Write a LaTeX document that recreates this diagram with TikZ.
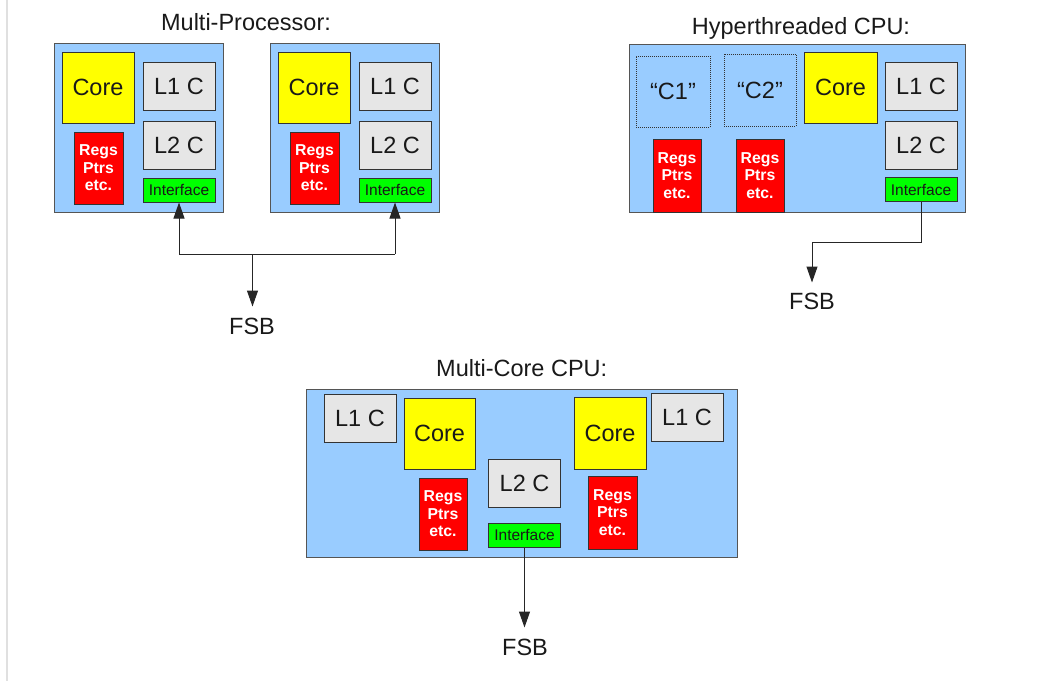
\documentclass[tikz,border=0pt]{standalone}
\usepackage{fontspec}
\setmainfont{Liberation Sans}
\usetikzlibrary{arrows.meta}

\definecolor{chipblue}{HTML}{99CCFF}
\definecolor{coreyellow}{HTML}{FFFF00}
\definecolor{cachegray}{HTML}{E6E6E6}
\definecolor{regred}{HTML}{FF0000}
\definecolor{ifgreen}{HTML}{00FF00}
\definecolor{edge}{HTML}{333333}
\definecolor{chipedge}{HTML}{555555}
\definecolor{rulegray}{HTML}{E0E0E0}

\tikzset{
  big/.style={font=\fontsize{23.5}{28}\selectfont, text=black!90},
  chip/.style={draw=chipedge, fill=chipblue, line width=1pt, inner sep=0pt},
  block/.style={draw=edge, line width=1pt, inner sep=0pt, big},
  corebox/.style={block, fill=coreyellow},
  cachebox/.style={block, fill=cachegray, minimum width=72pt, minimum height=48pt},
  regbox/.style={draw=edge, fill=regred, line width=1pt, inner sep=0pt,
    align=center, text=white,
    font=\fontsize{15.8}{17.5}\selectfont\bfseries},
  ifbox/.style={draw=edge, fill=ifgreen, line width=1pt, inner sep=0pt,
    minimum width=72pt, minimum height=24pt,
    font=\fontsize{15.5}{18}\selectfont, text=black!90},
  threadbox/.style={draw=edge, densely dotted, line width=1pt, inner sep=0pt, big},
  title/.style={big, anchor=base, inner sep=0pt},
  wire/.style={draw=black!85, line width=1pt},
  bus/.style={wire, -{Triangle[length=16pt, width=11pt]}},
}

\begin{document}
\begin{tikzpicture}[x=1pt, y=-1pt]
\useasboundingbox (0,0) rectangle (1047,681);
\draw[rulegray, line width=1.5pt] (7,0) -- (7,681);

% ---------- Multi-Processor ----------
\node[title] (mptitle) at (246,30) {Multi-Processor:};

\node[chip, minimum width=169pt, minimum height=169pt] (cpuA) at (138.5,127.5) {};
\node[corebox, minimum width=72pt, minimum height=71pt] (coreA) at (98,87.5) {Core};
\node[cachebox] (l1A) at (179,86) {L1 C};
\node[cachebox] (l2A) at (179,145) {L2 C};
\node[regbox, minimum width=49pt, minimum height=72pt] (regA) at (98.5,168) {Regs\\Ptrs\\etc.};
\node[ifbox] (ifA) at (179,190) {Interface};

\node[chip, minimum width=169pt, minimum height=169pt] (cpuB) at (354.5,127.5) {};
\node[corebox, minimum width=72pt, minimum height=71pt] (coreB) at (314,87.5) {Core};
\node[cachebox] (l1B) at (395,86) {L1 C};
\node[cachebox] (l2B) at (395,145) {L2 C};
\node[regbox, minimum width=49pt, minimum height=72pt] (regB) at (314.5,168) {Regs\\Ptrs\\etc.};
\node[ifbox] (ifB) at (395,190) {Interface};

\node[big, anchor=base, inner sep=0pt] (fsbA) at (252,334) {FSB};
\coordinate (busA) at (252.5,254);
\coordinate (fsbAtip) at (252.5,306.5);
\draw[wire] (ifA.south |- busA) -- (ifB.south |- busA);
\draw[bus] (ifA.south |- busA) -- (ifA.south);
\draw[bus] (ifB.south |- busA) -- (ifB.south);
\draw[bus] (busA) -- (fsbAtip);

% ---------- Hyperthreaded CPU ----------
\node[title] (httitle) at (801,34) {Hyperthreaded CPU:};

\node[chip, minimum width=336pt, minimum height=168pt] (cpuH) at (797,128) {};
\node[threadbox, minimum width=74pt, minimum height=71pt] (thr1) at (673,91.5) {“C1”};
\node[threadbox, minimum width=72pt, minimum height=72pt] (thr2) at (760,90) {“C2”};
\node[corebox, minimum width=73pt, minimum height=71pt] (coreH) at (840.5,87.5) {Core};
\node[cachebox] (l1H) at (921,86) {L1 C};
\node[cachebox] (l2H) at (921,145) {L2 C};
\node[ifbox] (ifH) at (921,189.5) {Interface};
\node[regbox, minimum width=48pt, minimum height=73pt] (regH1) at (677,175.5) {Regs\\Ptrs\\etc.};
\node[regbox, minimum width=48pt, minimum height=73pt] (regH2) at (760,175.5) {Regs\\Ptrs\\etc.};

\node[big, anchor=base, inner sep=0pt] (fsbH) at (812,309.5) {FSB};
\coordinate (bendH) at (812,242.5);
\coordinate (fsbHtip) at (812,282.5);
\draw[bus] (ifH.south) |- (bendH) -- (fsbHtip);

% ---------- Multi-Core CPU ----------
\node[title] (mctitle) at (521.7,376.7) {Multi-Core CPU:};

\node[chip, minimum width=431pt, minimum height=168pt] (cpuM) at (521.5,473) {};
\node[cachebox] (l1M1) at (360,418) {L1 C};
\node[corebox, minimum width=71pt, minimum height=71pt] (coreM1) at (439.5,433.5) {Core};
\node[regbox, minimum width=48pt, minimum height=72pt] (regM1) at (443,514) {Regs\\Ptrs\\etc.};
\node[cachebox] (l2M) at (524.5,483) {L2 C};
\node[ifbox] (ifM) at (524.5,535) {Interface};
\node[corebox, minimum width=72pt, minimum height=72pt] (coreM2) at (610,433) {Core};
\node[cachebox] (l1M2) at (687,417) {L1 C};
\node[regbox, minimum width=49pt, minimum height=73pt] (regM2) at (612.5,512.5) {Regs\\Ptrs\\etc.};

\node[big, anchor=base, inner sep=0pt] (fsbM) at (525,655) {FSB};
\coordinate (fsbMtip) at (524.5,627.5);
\draw[bus] (ifM.south) -- (fsbMtip);
\end{tikzpicture}
\end{document}
